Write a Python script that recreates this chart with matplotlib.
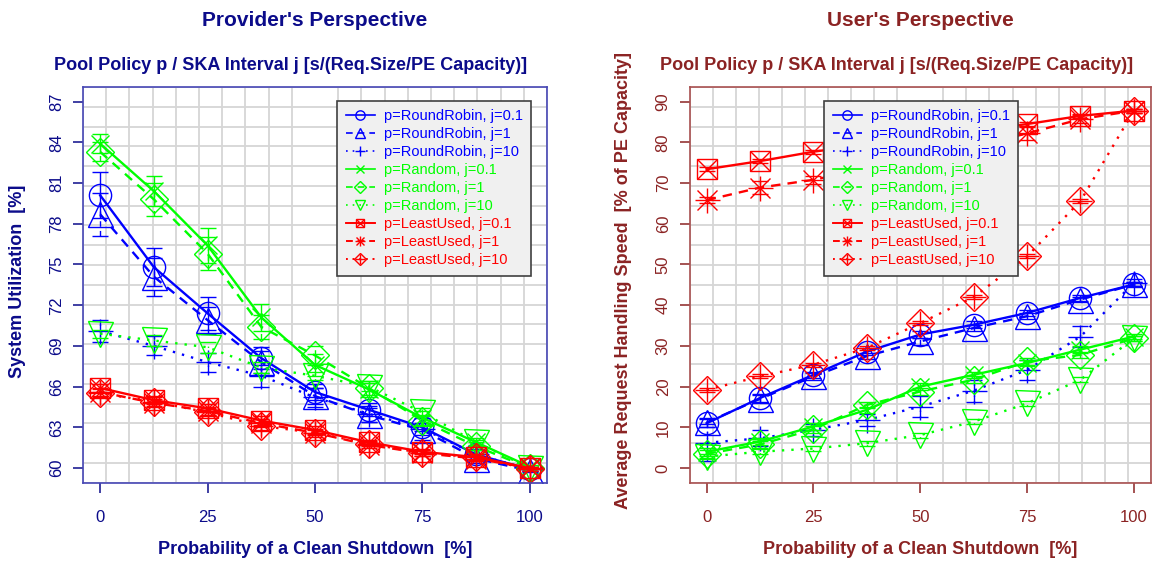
import numpy as np
import matplotlib
matplotlib.use("Agg")
from matplotlib import pyplot as plt
from matplotlib.lines import Line2D
from matplotlib.legend_handler import HandlerTuple

plt.rcParams["font.family"] = ["Liberation Sans", "DejaVu Sans"]

# probability of a clean shutdown [%]
shutdown = [0, 12.5, 25, 37.5, 50, 62.5, 75, 87.5, 100]

# provider's perspective: system utilization [%]
util_rr_01 = [80.1, 74.8, 71.4, 68.1, 65.6, 64.3, 63.0, 61.0, 59.9]
util_rr_1 = [78.7, 74.1, 70.9, 67.8, 65.3, 63.9, 62.8, 60.7, 59.8]
util_rr_10 = [70.1, 69.0, 67.8, 66.8, 65.2, 64.0, 62.9, 61.0, 59.9]
util_rnd_01 = [83.9, 80.4, 76.4, 71.1, 67.6, 65.8, 63.7, 61.9, 60.1]
util_rnd_1 = [83.3, 79.8, 75.8, 70.4, 68.3, 65.9, 63.5, 61.6, 60.0]
util_rnd_10 = [69.9, 69.4, 68.9, 67.4, 66.8, 66.0, 64.1, 61.9, 60.0]
util_lu_01 = [65.9, 65.0, 64.4, 63.5, 62.8, 61.9, 61.2, 60.8, 60.0]
util_lu_1 = [65.6, 64.8, 64.2, 63.3, 62.6, 61.7, 61.1, 60.7, 60.0]
util_lu_10 = [65.5, 64.9, 64.1, 63.1, 62.6, 61.8, 61.1, 60.8, 59.9]

util_err_rr_01 = [1.7, 1.4, 1.2, 0.8, 0.6, 0.5, 0.3, 0.3, 0.1]
util_err_rr_1 = [1.6, 1.4, 1.0, 0.8, 0.6, 0.5, 0.4, 0.3, 0.1]
util_err_rr_10 = [0.8, 0.7, 0.7, 0.8, 0.7, 0.6, 0.8, 0.4, 0.1]
util_err_rnd_01 = [0.7, 1.1, 1.3, 1.0, 0.8, 0.6, 0.5, 0.3, 0.1]
util_err_rnd_1 = [0.7, 1.2, 1.2, 0.9, 0.7, 0.5, 0.4, 0.3, 0.1]
util_err_rnd_10 = [0.3, 0.4, 0.4, 0.4, 0.3, 0.3, 0.3, 0.2, 0.1]
util_err_lu_01 = [0.3, 0.3, 0.3, 0.3, 0.3, 0.2, 0.2, 0.2, 0.1]
util_err_lu_1 = [0.3, 0.3, 0.3, 0.3, 0.3, 0.2, 0.2, 0.2, 0.1]
util_err_lu_10 = [0.3, 0.3, 0.3, 0.3, 0.2, 0.2, 0.2, 0.2, 0.1]

# user's perspective: average request handling speed [% of PE capacity]
speed_rr_01 = [11.0, 17.2, 22.9, 28.6, 32.8, 35.2, 38.1, 41.8, 45.1]
speed_rr_1 = [11.2, 17.0, 22.5, 27.5, 31.1, 34.4, 37.3, 41.4, 45.1]
speed_rr_10 = [6.2, 7.3, 9.4, 11.8, 15.1, 19.0, 24.1, 32.3, 45.5]
speed_rnd_01 = [4.0, 6.5, 10.2, 14.3, 20.0, 22.9, 25.8, 29.1, 32.3]
speed_rnd_1 = [3.5, 5.8, 9.5, 15.5, 18.8, 21.7, 26.2, 27.8, 31.9]
speed_rnd_10 = [2.8, 4.0, 4.8, 6.1, 8.1, 11.4, 15.9, 21.7, 31.9]
speed_lu_01 = [73.4, 75.4, 77.7, 79.5, 81.0, 82.8, 84.5, 86.5, 87.8]
speed_lu_1 = [65.8, 68.9, 70.8, 73.5, 76.0, 79.0, 82.2, 85.7, 87.8]
speed_lu_10 = [19.2, 22.5, 25.4, 29.5, 35.6, 42.0, 52.0, 65.6, 87.8]

speed_err_rr_01 = [1.0, 1.0, 0.8, 0.8, 0.8, 0.8, 0.7, 0.7, 0.5]
speed_err_rr_1 = [1.0, 1.0, 0.8, 0.8, 0.8, 0.8, 0.7, 0.7, 0.5]
speed_err_rr_10 = [4.5, 2.0, 1.5, 1.5, 2.5, 2.7, 2.5, 2.5, 1.0]
speed_err_rnd_01 = [1.0, 0.8, 0.8, 0.8, 0.8, 0.8, 0.8, 0.8, 0.6]
speed_err_rnd_1 = [1.0, 0.8, 0.8, 0.8, 0.8, 0.8, 0.8, 0.8, 0.6]
speed_err_rnd_10 = [0.6, 0.6, 0.6, 0.6, 0.6, 0.6, 0.6, 0.6, 0.6]
speed_err_lu_01 = [0.5, 0.5, 0.5, 0.5, 0.5, 0.5, 0.5, 0.5, 0.5]
speed_err_lu_1 = [0.8, 1.5, 1.0, 1.0, 1.0, 1.0, 1.5, 1.0, 0.5]
speed_err_lu_10 = [0.5, 0.5, 0.5, 0.5, 0.5, 0.5, 0.5, 0.5, 0.5]

series_labels = [
    "p=RoundRobin, j=0.1", "p=RoundRobin, j=1", "p=RoundRobin, j=10",
    "p=Random, j=0.1", "p=Random, j=1", "p=Random, j=10",
    "p=LeastUsed, j=0.1", "p=LeastUsed, j=1", "p=LeastUsed, j=10",
]

BLUE, GREEN, RED = "#0000ff", "#00ff00", "#ff0000"
colors = [BLUE] * 3 + [GREEN] * 3 + [RED] * 3
dotted = (0, (1, 3))
dashed = (0, (4, 3))
linestyles = ["-", dashed, dotted] * 3

# R style plotting symbols, built from stacked matplotlib markers: (marker, size)
symbols = [
    [("o", 16)],
    [("^", 18)],
    [("+", 18)],
    [("x", 13)],
    [("D", 14)],
    [("v", 18)],
    [("s", 15), ("x", 14)],
    [("+", 18), ("x", 14)],
    [("D", 14), ("+", 17)],
]

utilization = [util_rr_01, util_rr_1, util_rr_10, util_rnd_01, util_rnd_1,
               util_rnd_10, util_lu_01, util_lu_1, util_lu_10]
util_errors = [util_err_rr_01, util_err_rr_1, util_err_rr_10, util_err_rnd_01,
               util_err_rnd_1, util_err_rnd_10, util_err_lu_01, util_err_lu_1,
               util_err_lu_10]
speed = [speed_rr_01, speed_rr_1, speed_rr_10, speed_rnd_01, speed_rnd_1,
         speed_rnd_10, speed_lu_01, speed_lu_1, speed_lu_10]
speed_errors = [speed_err_rr_01, speed_err_rr_1, speed_err_rr_10, speed_err_rnd_01,
                speed_err_rnd_1, speed_err_rnd_10, speed_err_lu_01, speed_err_lu_1,
                speed_err_lu_10]


def draw_panel(ax, values, errors, ylim, yticks, fg, frame, title, ylabel, legend_xy):
    xlim = (-4, 104)
    ax.set_xlim(*xlim)
    ax.set_ylim(*ylim)
    # background grid: 20 equal divisions of the plot region
    ax.set_xticks(np.linspace(*xlim, 21), minor=True)
    ax.set_yticks(np.linspace(*ylim, 21), minor=True)
    ax.grid(which="minor", color="#d6d6d6", linewidth=1.3)
    ax.set_axisbelow(True)
    ax.set_xticks([0, 25, 50, 75, 100])
    ax.set_yticks(yticks)
    ax.tick_params(which="minor", length=0)
    ax.tick_params(which="major", length=7.5, width=1.1, color=fg, labelcolor=fg,
                   labelsize=12)
    ax.tick_params(axis="x", pad=12)
    ax.tick_params(axis="y", pad=6)
    for label in ax.get_yticklabels():
        label.set_rotation(90)
        label.set_va("center")
    for spine in ax.spines.values():
        spine.set_color(frame)
        spine.set_linewidth(1.2)

    handles = []
    for y, err, col, ls, sym in zip(values, errors, colors, linestyles, symbols):
        eb = ax.errorbar(shutdown, y, yerr=err, fmt="none", ecolor=col,
                         elinewidth=1, capsize=5.5, capthick=1)
        eb[2][0].set_linestyle(ls)
        ax.plot(shutdown, y, color=col, linestyle=ls, linewidth=1.7)
        parts = []
        for mk, ms in sym:
            ax.plot(shutdown, y, linestyle="none", marker=mk, markersize=ms,
                    markerfacecolor="none", markeredgecolor=col, markeredgewidth=1)
            parts.append(Line2D([], [], color=col, linestyle=ls, linewidth=1.2,
                                marker=mk, markersize=ms * 0.42,
                                markerfacecolor="none", markeredgecolor=col,
                                markeredgewidth=1))
        handles.append(tuple(parts))

    leg = ax.legend(handles, series_labels, loc="upper left",
                    bbox_to_anchor=legend_xy, bbox_transform=ax.figure.transFigure,
                    handler_map={tuple: HandlerTuple(ndivide=1, pad=0)},
                    fontsize=10.5, handlelength=2.0, handletextpad=0.6,
                    labelspacing=0.27, borderpad=0.6, borderaxespad=0,
                    fancybox=False, framealpha=1, facecolor="#f0f0f0",
                    edgecolor="#404040")
    leg.get_frame().set_linewidth(1.2)
    for text, col in zip(leg.get_texts(), colors):
        text.set_color(col)

    ax.set_xlabel("Probability of a Clean Shutdown  [%]", color=fg,
                  fontsize=13, fontweight="bold", va="center")
    ax.xaxis.set_label_coords(0.5, -0.17)
    ax.set_ylabel(ylabel, color=fg, fontsize=13, fontweight="bold", va="center")
    ax.yaxis.set_label_coords(-0.142, 0.51)

    fig = ax.figure
    box = ax.get_position()
    fig.text(box.x0 + box.width / 2, 1 - 21 / 562, title, color=fg,
             fontsize=15, fontweight="bold", ha="center", va="center")
    fig.text(box.x0 + box.width / 2 - 24 / 1152, 1 - 66 / 562,
             "Pool Policy p / SKA Interval j [s/(Req.Size/PE Capacity)]",
             color=fg, fontsize=13, fontweight="bold", ha="center", va="center")


fig = plt.figure(figsize=(11.52, 5.62), dpi=100)
ax_left = fig.add_axes([83 / 1152, 1 - 482.7 / 562, 464 / 1152, 395.7 / 562])
ax_right = fig.add_axes([689.5 / 1152, 1 - 482.7 / 562, 461.5 / 1152, 395.7 / 562])

draw_panel(ax_left, utilization, util_errors, (58.92, 88.08), range(60, 88, 3),
           "#0b0b8a", "#4646b4", "Provider's Perspective", "System Utilization  [%]",
           (337 / 1152, 1 - 100.7 / 562))
draw_panel(ax_right, speed, speed_errors, (-3.6, 93.6), range(0, 91, 10),
           "#8b2323", "#a85050", "User's Perspective",
           "Average Request Handling Speed  [% of PE Capacity]",
           (824 / 1152, 1 - 100.7 / 562))

fig.savefig("out.png", dpi=100)
